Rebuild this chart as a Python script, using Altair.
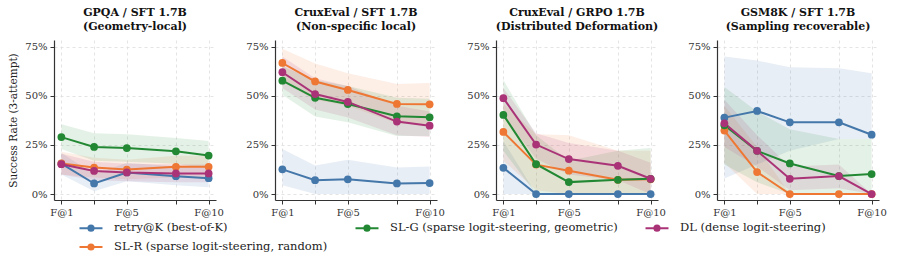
import altair as alt
import pandas as pd

ks = [1, 3, 5, 8, 10]
methods = [
    "retry@K (best-of-K)",
    "SL-R (sparse logit-steering, random)",
    "SL-G (sparse logit-steering, geometric)",
    "DL (dense logit-steering)",
]
colors = ["#4477AA", "#EE7733", "#228833", "#AA3377"]
legend_order = [methods[0], methods[2], methods[3], methods[1]]
legend_colors = [colors[0], colors[2], colors[3], colors[1]]

panel_titles = [
    ["GPQA / SFT 1.7B", "(Geometry-local)"],
    ["CruxEval / SFT 1.7B", "(Non-specific local)"],
    ["CruxEval / GRPO 1.7B", "(Distributed Deformation)"],
    ["GSM8K / SFT 1.7B", "(Sampling recoverable)"],
]

# success rate (%) per panel, per method: mean, band low, band high
gpqa_mean = [[15.5, 5.4, 11.0, 9.1, 8.1], [15.6, 13.5, 12.5, 13.9, 13.9],
             [29.0, 24.0, 23.4, 21.8, 19.6], [15.2, 11.8, 11.0, 10.5, 10.5]]
gpqa_lo = [[10, 1.5, 6.5, 4.5, 3.5], [10, 8.5, 7.5, 8.5, 8.5],
           [23, 17, 16.5, 15.5, 13], [10, 7, 6.5, 6, 6]]
gpqa_hi = [[21, 10, 16, 14, 13], [21.5, 18.5, 17.5, 19.5, 19.5],
           [35.5, 31, 30.5, 28.5, 27], [20.5, 16.5, 15.5, 15, 15]]

cs_mean = [[12.6, 7.1, 7.5, 5.4, 5.6], [66.7, 57.3, 53.0, 45.9, 45.7],
           [57.7, 49.0, 45.8, 39.6, 39.1], [62.0, 50.9, 46.9, 36.9, 34.8]]
cs_lo = [[4.5, 0, 0, 0, 0], [57, 48, 45, 36, 35],
         [50.5, 39.5, 36.5, 29.5, 29.5], [54, 43, 39, 30, 29]]
cs_hi = [[23, 14.5, 17.5, 13.5, 14], [74, 66.5, 61.5, 56, 56.5],
         [65, 58, 55, 49, 48.5], [70, 59, 55, 45, 42]]

cg_mean = [[13.4, 0, 0, 0, 0], [31.6, 15.0, 11.9, 7.3, 7.5],
           [40.3, 15.2, 6.1, 7.3, 7.8], [48.8, 25.2, 17.8, 14.4, 7.8]]
cg_lo = [[0, 0, 0, 0, 0], [17, 2, 0, 0, 0],
         [22, 0, 0, 0, 0], [40, 18, 10, 7, 0]]
cg_hi = [[27, 0, 0, 0, 0], [46, 30.5, 30, 22, 22],
         [58, 30, 17, 22, 23.5], [54, 31, 26, 22, 16]]

gs_mean = [[38.9, 42.3, 36.5, 36.5, 30.2], [32.3, 11.2, 0, 0, 0],
           [35.0, 22.0, 15.6, 9.2, 10.2], [36.0, 22.0, 7.8, 9.2, 0]]
gs_lo = [[8, 15, 22, 28, 28], [16, 0, 0, 0, 0],
         [15, 6, 0, 0, 0], [24, 14, 2, 3, 0]]
gs_hi = [[70, 68, 64.5, 64, 61.5], [45, 24, 0, 0, 0],
         [54.5, 42, 33, 28, 28], [48, 30, 14, 15, 0]]

all_mean = [gpqa_mean, cs_mean, cg_mean, gs_mean]
all_lo = [gpqa_lo, cs_lo, cg_lo, gs_lo]
all_hi = [gpqa_hi, cs_hi, cg_hi, gs_hi]

rows = []
for p in range(4):
    for m, name in enumerate(methods):
        for i, k in enumerate(ks):
            rows.append({
                "panel": p,
                "method": name,
                "order": m,
                "k": k,
                "val": all_mean[p][m][i] / 100,
                "lo": all_lo[p][m][i] / 100,
                "hi": all_hi[p][m][i] / 100,
            })
df = pd.DataFrame(rows)

FONT = "DejaVu Serif"
color_scale = alt.Scale(domain=legend_order, range=legend_colors)
xscale = alt.Scale(domain=[0.55, 10.45], nice=False, zero=False)
yscale = alt.Scale(domain=[-0.03, 0.784], nice=False, zero=False)
sym_path = "M-2,0H2M-0.45,0A0.45,0.45,0,1,1,0.45,0A0.45,0.45,0,1,1,-0.45,0Z"

legend = alt.Legend(
    title=None,
    orient="none",
    legendX=24,
    legendY=181,
    direction="horizontal",
    columns=3,
    columnPadding=23,
    rowPadding=5,
    symbolType=sym_path,
    symbolSize=132,
    symbolStrokeWidth=2,
    symbolOpacity=1,
    symbolOffset=6,
    labelOffset=16,
    labelFont=FONT,
    labelFontSize=11.5,
    labelColor="#222",
    labelLimit=0,
)

xaxis = alt.Axis(
    values=ks,
    labelExpr="(datum.value == 1 || datum.value == 5 || datum.value == 10) ? 'F@' + datum.value : ''",
    title=None,
    grid=True,
)


def panel(p):
    base = alt.Chart(df).transform_filter(alt.datum.panel == p)
    yaxis = alt.Axis(
        values=[0, 0.25, 0.5, 0.75],
        format=".0%",
        grid=True,
        title="Success Rate (3-attempt)" if p == 0 else "",
    )
    x = alt.X("k:Q", scale=xscale, axis=xaxis)
    color = alt.Color("method:N", scale=color_scale, legend=legend)
    area = base.mark_area(opacity=0.12).encode(
        x=x,
        y=alt.Y("lo:Q", scale=yscale, axis=yaxis, stack=None),
        y2="hi:Q",
        color=color,
        detail="method:N",
    )
    line = base.mark_line(strokeWidth=2).encode(
        x=x,
        y=alt.Y("val:Q", scale=yscale, stack=None),
        color=color,
        order="k:Q",
    )
    pts = base.mark_point(filled=True, size=60, opacity=1).encode(
        x=x,
        y=alt.Y("val:Q", scale=yscale, stack=None),
        color=color,
    )
    return alt.layer(area, line, pts).properties(
        width=162,
        height=160,
        title=alt.TitleParams(
            text=panel_titles[p],
            font=FONT,
            fontSize=11,
            fontWeight="bold",
            lineHeight=14,
            offset=8,
            anchor="middle",
            color="#111",
        ),
    )


chart = alt.hconcat(*[panel(p) for p in range(4)], spacing=21).properties(
    padding={"left": 8, "top": 7, "right": 0, "bottom": 0}
).configure_view(stroke=None).configure_axis(
    labelFont=FONT,
    labelFontSize=10,
    labelColor="#333",
    titleFont=FONT,
    titleFontSize=10.5,
    titleFontWeight="normal",
    titleColor="#222",
    titlePadding=6,
    domainColor="#333",
    domainWidth=1.2,
    tickColor="#333",
    tickSize=4,
    labelPadding=3,
    gridColor="#dddddd",
    gridDash=[3, 3],
    gridWidth=0.8,
).configure_legend(labelFont=FONT, labelFontSize=11.5)

chart.save("out.html", embed_options={"renderer": "svg", "actions": False})
